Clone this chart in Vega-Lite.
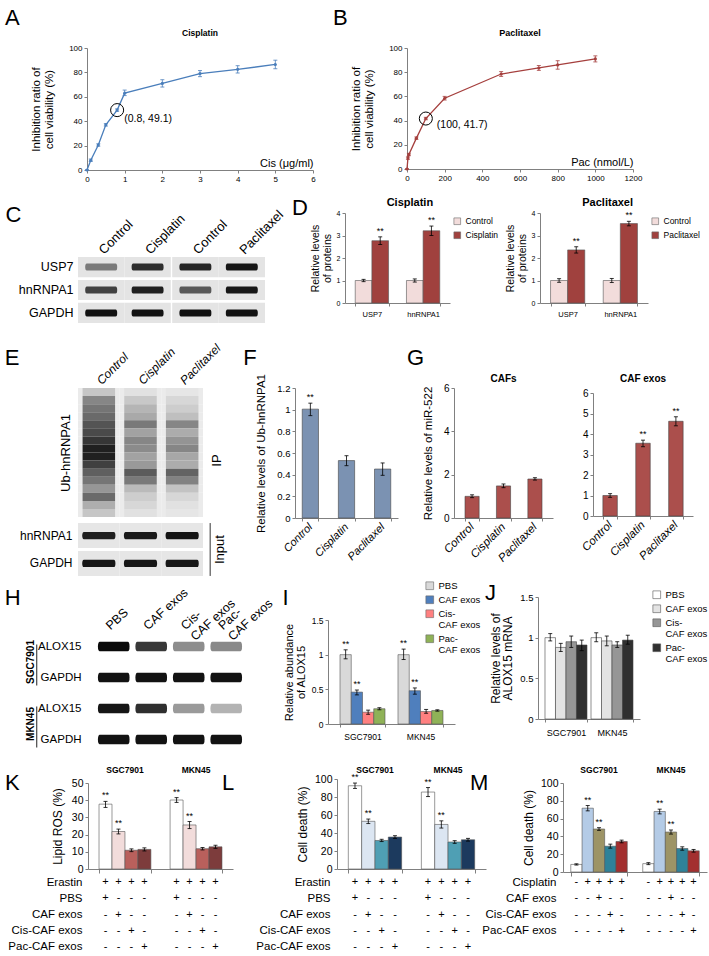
{
 "$schema": "https://vega.github.io/schema/vega-lite/v6.json",
 "width": 709,
 "height": 956,
 "autosize": {"type": "none"},
 "padding": 0,
 "background": "#ffffff",
 "config": {
  "font": "Liberation Sans",
  "view": {"stroke": null},
  "axis": {"domainColor": "#808080", "tickColor": "#808080", "labelColor": "#000000", "titleColor": "#000000", "titleFontWeight": "normal", "grid": false, "tickSize": 3, "labelFont": "Liberation Sans", "titleFont": "Liberation Sans", "labelPadding": 2, "labelOverlap": false, "labelFlush": false},
  "legend": {"labelFont": "Liberation Sans", "labelColor": "#000000"},
  "text": {"font": "Liberation Sans", "color": "#000000"}
 },
 "datasets": {
  "cis": [
   {"conc": 0, "value": 0, "lo": 0, "hi": 0},
   {"conc": 0.1, "value": 8, "lo": 7, "hi": 9},
   {"conc": 0.3, "value": 20.5, "lo": 19.5, "hi": 21.5},
   {"conc": 0.5, "value": 37, "lo": 36, "hi": 38},
   {"conc": 0.8, "value": 49.1, "lo": 48.1, "hi": 50.1},
   {"conc": 1, "value": 63, "lo": 61, "hi": 65.5},
   {"conc": 2, "value": 71, "lo": 68, "hi": 74},
   {"conc": 3, "value": 79, "lo": 76.5, "hi": 81.5},
   {"conc": 4, "value": 82.5, "lo": 79.5, "hi": 85.5},
   {"conc": 5, "value": 86.5, "lo": 83, "hi": 90}
  ],
  "cisNote": [{"conc": 0.8, "value": 49.1, "label": "(0.8, 49.1)"}],
  "pac": [
   {"conc": 0, "value": 0, "lo": 0, "hi": 0},
   {"conc": 5, "value": 9, "lo": 8, "hi": 10},
   {"conc": 10, "value": 12, "lo": 11, "hi": 13},
   {"conc": 50, "value": 25.5, "lo": 24.5, "hi": 26.5},
   {"conc": 100, "value": 41.7, "lo": 40.7, "hi": 42.7},
   {"conc": 200, "value": 58.5, "lo": 57, "hi": 60},
   {"conc": 500, "value": 78.5, "lo": 76.5, "hi": 80.5},
   {"conc": 700, "value": 83.5, "lo": 81.5, "hi": 85.5},
   {"conc": 800, "value": 86, "lo": 82.5, "hi": 89.5},
   {"conc": 1000, "value": 91, "lo": 88.5, "hi": 93.5}
  ],
  "pacNote": [{"conc": 100, "value": 41.7, "label": "(100, 41.7)"}],
  "cLanes": [
   {"box": "left", "pos": "a", "label": "Control"},
   {"box": "left", "pos": "b", "label": "Cisplatin"},
   {"box": "right", "pos": "a", "label": "Control"},
   {"box": "right", "pos": "b", "label": "Paclitaxel"}
  ],
  "cBands": [
   {"box": "left", "pos": "a", "protein": "USP7", "intensity": 0.45},
   {"box": "left", "pos": "b", "protein": "USP7", "intensity": 0.82},
   {"box": "right", "pos": "a", "protein": "USP7", "intensity": 0.86},
   {"box": "right", "pos": "b", "protein": "USP7", "intensity": 0.95},
   {"box": "left", "pos": "a", "protein": "hnRNPA1", "intensity": 0.72},
   {"box": "left", "pos": "b", "protein": "hnRNPA1", "intensity": 0.9},
   {"box": "right", "pos": "a", "protein": "hnRNPA1", "intensity": 0.6},
   {"box": "right", "pos": "b", "protein": "hnRNPA1", "intensity": 0.95},
   {"box": "left", "pos": "a", "protein": "GAPDH", "intensity": 0.97},
   {"box": "left", "pos": "b", "protein": "GAPDH", "intensity": 0.97},
   {"box": "right", "pos": "a", "protein": "GAPDH", "intensity": 0.97},
   {"box": "right", "pos": "b", "protein": "GAPDH", "intensity": 0.97}
  ],
  "dCis": [
   {"gene": "USP7", "cond": "Control", "value": 1, "lo": 0.95, "hi": 1.05, "sig": ""},
   {"gene": "USP7", "cond": "Cisplatin", "value": 2.77, "lo": 2.6, "hi": 2.94, "sig": "**"},
   {"gene": "hnRNPA1", "cond": "Control", "value": 1, "lo": 0.93, "hi": 1.07, "sig": ""},
   {"gene": "hnRNPA1", "cond": "Cisplatin", "value": 3.21, "lo": 3.0, "hi": 3.42, "sig": "**"}
  ],
  "dPac": [
   {"gene": "USP7", "cond": "Control", "value": 1, "lo": 0.92, "hi": 1.08, "sig": ""},
   {"gene": "USP7", "cond": "Paclitaxel", "value": 2.36, "lo": 2.22, "hi": 2.5, "sig": "**"},
   {"gene": "hnRNPA1", "cond": "Control", "value": 1, "lo": 0.91, "hi": 1.09, "sig": ""},
   {"gene": "hnRNPA1", "cond": "Paclitaxel", "value": 3.53, "lo": 3.43, "hi": 3.63, "sig": "**"}
  ],
  "ipSmear": [
   {"lane": "Control", "level": 1, "intensity": 0.15}, {"lane": "Control", "level": 2, "intensity": 0.42}, {"lane": "Control", "level": 3, "intensity": 0.5}, {"lane": "Control", "level": 4, "intensity": 0.55},
   {"lane": "Control", "level": 5, "intensity": 0.65}, {"lane": "Control", "level": 6, "intensity": 0.7}, {"lane": "Control", "level": 7, "intensity": 0.8}, {"lane": "Control", "level": 8, "intensity": 0.92},
   {"lane": "Control", "level": 9, "intensity": 0.92}, {"lane": "Control", "level": 10, "intensity": 0.75}, {"lane": "Control", "level": 11, "intensity": 0.6}, {"lane": "Control", "level": 12, "intensity": 0.5},
   {"lane": "Control", "level": 13, "intensity": 0.35}, {"lane": "Control", "level": 14, "intensity": 0.55}, {"lane": "Control", "level": 15, "intensity": 0.25}, {"lane": "Control", "level": 16, "intensity": 0.15},
   {"lane": "Cisplatin", "level": 1, "intensity": 0.04}, {"lane": "Cisplatin", "level": 2, "intensity": 0.14}, {"lane": "Cisplatin", "level": 3, "intensity": 0.22}, {"lane": "Cisplatin", "level": 4, "intensity": 0.27},
   {"lane": "Cisplatin", "level": 5, "intensity": 0.48}, {"lane": "Cisplatin", "level": 6, "intensity": 0.3}, {"lane": "Cisplatin", "level": 7, "intensity": 0.42}, {"lane": "Cisplatin", "level": 8, "intensity": 0.4},
   {"lane": "Cisplatin", "level": 9, "intensity": 0.3}, {"lane": "Cisplatin", "level": 10, "intensity": 0.34}, {"lane": "Cisplatin", "level": 11, "intensity": 0.62}, {"lane": "Cisplatin", "level": 12, "intensity": 0.48},
   {"lane": "Cisplatin", "level": 13, "intensity": 0.2}, {"lane": "Cisplatin", "level": 14, "intensity": 0.12}, {"lane": "Cisplatin", "level": 15, "intensity": 0.08}, {"lane": "Cisplatin", "level": 16, "intensity": 0.04},
   {"lane": "Paclitaxel", "level": 1, "intensity": 0.02}, {"lane": "Paclitaxel", "level": 2, "intensity": 0.08}, {"lane": "Paclitaxel", "level": 3, "intensity": 0.12}, {"lane": "Paclitaxel", "level": 4, "intensity": 0.18},
   {"lane": "Paclitaxel", "level": 5, "intensity": 0.42}, {"lane": "Paclitaxel", "level": 6, "intensity": 0.26}, {"lane": "Paclitaxel", "level": 7, "intensity": 0.36}, {"lane": "Paclitaxel", "level": 8, "intensity": 0.42},
   {"lane": "Paclitaxel", "level": 9, "intensity": 0.28}, {"lane": "Paclitaxel", "level": 10, "intensity": 0.26}, {"lane": "Paclitaxel", "level": 11, "intensity": 0.58}, {"lane": "Paclitaxel", "level": 12, "intensity": 0.44},
   {"lane": "Paclitaxel", "level": 13, "intensity": 0.16}, {"lane": "Paclitaxel", "level": 14, "intensity": 0.08}, {"lane": "Paclitaxel", "level": 15, "intensity": 0.04}, {"lane": "Paclitaxel", "level": 16, "intensity": 0.02}
  ],
  "inBands": [
   {"lane": "Control", "protein": "hnRNPA1", "intensity": 0.9},
   {"lane": "Cisplatin", "protein": "hnRNPA1", "intensity": 0.93},
   {"lane": "Paclitaxel", "protein": "hnRNPA1", "intensity": 0.96},
   {"lane": "Control", "protein": "GAPDH", "intensity": 0.95},
   {"lane": "Cisplatin", "protein": "GAPDH", "intensity": 0.95},
   {"lane": "Paclitaxel", "protein": "GAPDH", "intensity": 0.95}
  ],
  "fdata": [
   {"grp": "Control", "value": 1.005, "lo": 0.945, "hi": 1.06, "sig": "**"},
   {"grp": "Cisplatin", "value": 0.53, "lo": 0.483, "hi": 0.575, "sig": ""},
   {"grp": "Paclitaxel", "value": 0.452, "lo": 0.394, "hi": 0.508, "sig": ""}
  ],
  "g1": [
   {"grp": "Control", "value": 1.0, "lo": 0.94, "hi": 1.07},
   {"grp": "Cisplatin", "value": 1.48, "lo": 1.4, "hi": 1.57},
   {"grp": "Paclitaxel", "value": 1.8, "lo": 1.75, "hi": 1.86}
  ],
  "g2": [
   {"grp": "Control", "value": 1.0, "lo": 0.91, "hi": 1.09, "sig": ""},
   {"grp": "Cisplatin", "value": 3.55, "lo": 3.38, "hi": 3.7, "sig": "**"},
   {"grp": "Paclitaxel", "value": 4.62, "lo": 4.4, "hi": 4.84, "sig": "**"}
  ],
  "lines": [{"line": "SGC7901"}, {"line": "MKN45"}],
  "hLines": [{"line": "SGC7901", "top": "ALOX15", "bottom": "GAPDH"}, {"line": "MKN45", "top": "ALOX15_2", "bottom": "GAPDH_2"}],
  "hBands": [
   {"lane": "PBS", "row": "ALOX15", "intensity": 1.0},
   {"lane": "CAF exos", "row": "ALOX15", "intensity": 0.78},
   {"lane": "Cis-CAF exos", "row": "ALOX15", "intensity": 0.4},
   {"lane": "Pac-CAF exos", "row": "ALOX15", "intensity": 0.42},
   {"lane": "PBS", "row": "GAPDH", "intensity": 0.97},
   {"lane": "CAF exos", "row": "GAPDH", "intensity": 0.97},
   {"lane": "Cis-CAF exos", "row": "GAPDH", "intensity": 0.97},
   {"lane": "Pac-CAF exos", "row": "GAPDH", "intensity": 0.97},
   {"lane": "PBS", "row": "ALOX15_2", "intensity": 0.95},
   {"lane": "CAF exos", "row": "ALOX15_2", "intensity": 0.82},
   {"lane": "Cis-CAF exos", "row": "ALOX15_2", "intensity": 0.35},
   {"lane": "Pac-CAF exos", "row": "ALOX15_2", "intensity": 0.25},
   {"lane": "PBS", "row": "GAPDH_2", "intensity": 0.97},
   {"lane": "CAF exos", "row": "GAPDH_2", "intensity": 0.97},
   {"lane": "Cis-CAF exos", "row": "GAPDH_2", "intensity": 0.97},
   {"lane": "Pac-CAF exos", "row": "GAPDH_2", "intensity": 0.97}
  ],
  "idata": [
   {"line": "SGC7901", "trt": "PBS", "value": 1.0, "lo": 0.94, "hi": 1.07, "sig": "**"},
   {"line": "SGC7901", "trt": "CAF exos", "value": 0.46, "lo": 0.42, "hi": 0.49, "sig": "**"},
   {"line": "SGC7901", "trt": "Cis-CAF exos", "value": 0.17, "lo": 0.14, "hi": 0.2, "sig": ""},
   {"line": "SGC7901", "trt": "Pac-CAF exos", "value": 0.22, "lo": 0.205, "hi": 0.235, "sig": ""},
   {"line": "MKN45", "trt": "PBS", "value": 1.0, "lo": 0.93, "hi": 1.08, "sig": "**"},
   {"line": "MKN45", "trt": "CAF exos", "value": 0.48, "lo": 0.43, "hi": 0.52, "sig": "**"},
   {"line": "MKN45", "trt": "Cis-CAF exos", "value": 0.18, "lo": 0.155, "hi": 0.21, "sig": ""},
   {"line": "MKN45", "trt": "Pac-CAF exos", "value": 0.195, "lo": 0.185, "hi": 0.205, "sig": ""}
  ],
  "jdata": [
   {"line": "SGC7901", "trt": "PBS", "value": 1.0, "lo": 0.96, "hi": 1.05},
   {"line": "SGC7901", "trt": "CAF exos", "value": 0.88, "lo": 0.83, "hi": 0.93},
   {"line": "SGC7901", "trt": "Cis-CAF exos", "value": 0.95, "lo": 0.88, "hi": 1.02},
   {"line": "SGC7901", "trt": "Pac-CAF exos", "value": 0.91, "lo": 0.84, "hi": 0.97},
   {"line": "MKN45", "trt": "PBS", "value": 1.0, "lo": 0.95, "hi": 1.06},
   {"line": "MKN45", "trt": "CAF exos", "value": 0.96, "lo": 0.9, "hi": 1.02},
   {"line": "MKN45", "trt": "Cis-CAF exos", "value": 0.91, "lo": 0.88, "hi": 0.95},
   {"line": "MKN45", "trt": "Pac-CAF exos", "value": 0.97, "lo": 0.92, "hi": 1.03}
  ],
  "kdata": [
   {"line": "SGC7901", "trt": "PBS", "value": 37.7, "lo": 35.8, "hi": 39.3, "sig": "**"},
   {"line": "SGC7901", "trt": "CAF exos", "value": 21.8, "lo": 20.4, "hi": 23.2, "sig": "**"},
   {"line": "SGC7901", "trt": "Cis-CAF exos", "value": 10.9, "lo": 10.1, "hi": 11.7, "sig": ""},
   {"line": "SGC7901", "trt": "Pac-CAF exos", "value": 11.4, "lo": 10.5, "hi": 12.3, "sig": ""},
   {"line": "MKN45", "trt": "PBS", "value": 40.1, "lo": 38.7, "hi": 41.5, "sig": "**"},
   {"line": "MKN45", "trt": "CAF exos", "value": 25.6, "lo": 23.5, "hi": 27.6, "sig": "**"},
   {"line": "MKN45", "trt": "Cis-CAF exos", "value": 11.8, "lo": 11.1, "hi": 12.5, "sig": ""},
   {"line": "MKN45", "trt": "Pac-CAF exos", "value": 12.9, "lo": 12.0, "hi": 13.8, "sig": ""}
  ],
  "ldata": [
   {"line": "SGC7901", "trt": "PBS", "value": 92.5, "lo": 89.5, "hi": 95.5, "sig": "**"},
   {"line": "SGC7901", "trt": "CAF exos", "value": 53, "lo": 50.5, "hi": 55.5, "sig": "**"},
   {"line": "SGC7901", "trt": "Cis-CAF exos", "value": 31.7, "lo": 30.5, "hi": 33, "sig": ""},
   {"line": "SGC7901", "trt": "Pac-CAF exos", "value": 35.5, "lo": 34, "hi": 37, "sig": ""},
   {"line": "MKN45", "trt": "PBS", "value": 85.5, "lo": 80.5, "hi": 90.5, "sig": "**"},
   {"line": "MKN45", "trt": "CAF exos", "value": 49.5, "lo": 45.5, "hi": 53.5, "sig": "**"},
   {"line": "MKN45", "trt": "Cis-CAF exos", "value": 30, "lo": 28.5, "hi": 31.5, "sig": ""},
   {"line": "MKN45", "trt": "Pac-CAF exos", "value": 32.5, "lo": 31, "hi": 34, "sig": ""}
  ],
  "mdata": [
   {"line": "SGC7901", "trt": "None", "value": 8.5, "lo": 7.8, "hi": 9.2, "sig": ""},
   {"line": "SGC7901", "trt": "Cisplatin", "value": 71.7, "lo": 68.7, "hi": 74.7, "sig": "**"},
   {"line": "SGC7901", "trt": "CAF exos", "value": 48.3, "lo": 46.8, "hi": 49.8, "sig": "**"},
   {"line": "SGC7901", "trt": "Cis-CAF exos", "value": 29, "lo": 26.8, "hi": 31.3, "sig": ""},
   {"line": "SGC7901", "trt": "Pac-CAF exos", "value": 34.3, "lo": 32.8, "hi": 35.8, "sig": ""},
   {"line": "MKN45", "trt": "None", "value": 9.4, "lo": 8.3, "hi": 10.5, "sig": ""},
   {"line": "MKN45", "trt": "Cisplatin", "value": 68, "lo": 65.3, "hi": 70.6, "sig": "**"},
   {"line": "MKN45", "trt": "CAF exos", "value": 44.9, "lo": 42.6, "hi": 47.2, "sig": "**"},
   {"line": "MKN45", "trt": "Cis-CAF exos", "value": 26.4, "lo": 24.5, "hi": 28.3, "sig": ""},
   {"line": "MKN45", "trt": "Pac-CAF exos", "value": 23.8, "lo": 22.3, "hi": 25.3, "sig": ""}
  ],
  "tabKL": [
   {"line": "SGC7901", "factor": "Erastin", "trt": "PBS", "sign": "+"}, {"line": "SGC7901", "factor": "Erastin", "trt": "CAF exos", "sign": "+"}, {"line": "SGC7901", "factor": "Erastin", "trt": "Cis-CAF exos", "sign": "+"}, {"line": "SGC7901", "factor": "Erastin", "trt": "Pac-CAF exos", "sign": "+"},
   {"line": "SGC7901", "factor": "PBS", "trt": "PBS", "sign": "+"}, {"line": "SGC7901", "factor": "PBS", "trt": "CAF exos", "sign": "-"}, {"line": "SGC7901", "factor": "PBS", "trt": "Cis-CAF exos", "sign": "-"}, {"line": "SGC7901", "factor": "PBS", "trt": "Pac-CAF exos", "sign": "-"},
   {"line": "SGC7901", "factor": "CAF exos", "trt": "PBS", "sign": "-"}, {"line": "SGC7901", "factor": "CAF exos", "trt": "CAF exos", "sign": "+"}, {"line": "SGC7901", "factor": "CAF exos", "trt": "Cis-CAF exos", "sign": "-"}, {"line": "SGC7901", "factor": "CAF exos", "trt": "Pac-CAF exos", "sign": "-"},
   {"line": "SGC7901", "factor": "Cis-CAF exos", "trt": "PBS", "sign": "-"}, {"line": "SGC7901", "factor": "Cis-CAF exos", "trt": "CAF exos", "sign": "-"}, {"line": "SGC7901", "factor": "Cis-CAF exos", "trt": "Cis-CAF exos", "sign": "+"}, {"line": "SGC7901", "factor": "Cis-CAF exos", "trt": "Pac-CAF exos", "sign": "-"},
   {"line": "SGC7901", "factor": "Pac-CAF exos", "trt": "PBS", "sign": "-"}, {"line": "SGC7901", "factor": "Pac-CAF exos", "trt": "CAF exos", "sign": "-"}, {"line": "SGC7901", "factor": "Pac-CAF exos", "trt": "Cis-CAF exos", "sign": "-"}, {"line": "SGC7901", "factor": "Pac-CAF exos", "trt": "Pac-CAF exos", "sign": "+"},
   {"line": "MKN45", "factor": "Erastin", "trt": "PBS", "sign": "+"}, {"line": "MKN45", "factor": "Erastin", "trt": "CAF exos", "sign": "+"}, {"line": "MKN45", "factor": "Erastin", "trt": "Cis-CAF exos", "sign": "+"}, {"line": "MKN45", "factor": "Erastin", "trt": "Pac-CAF exos", "sign": "+"},
   {"line": "MKN45", "factor": "PBS", "trt": "PBS", "sign": "+"}, {"line": "MKN45", "factor": "PBS", "trt": "CAF exos", "sign": "-"}, {"line": "MKN45", "factor": "PBS", "trt": "Cis-CAF exos", "sign": "-"}, {"line": "MKN45", "factor": "PBS", "trt": "Pac-CAF exos", "sign": "-"},
   {"line": "MKN45", "factor": "CAF exos", "trt": "PBS", "sign": "-"}, {"line": "MKN45", "factor": "CAF exos", "trt": "CAF exos", "sign": "+"}, {"line": "MKN45", "factor": "CAF exos", "trt": "Cis-CAF exos", "sign": "-"}, {"line": "MKN45", "factor": "CAF exos", "trt": "Pac-CAF exos", "sign": "-"},
   {"line": "MKN45", "factor": "Cis-CAF exos", "trt": "PBS", "sign": "-"}, {"line": "MKN45", "factor": "Cis-CAF exos", "trt": "CAF exos", "sign": "-"}, {"line": "MKN45", "factor": "Cis-CAF exos", "trt": "Cis-CAF exos", "sign": "+"}, {"line": "MKN45", "factor": "Cis-CAF exos", "trt": "Pac-CAF exos", "sign": "-"},
   {"line": "MKN45", "factor": "Pac-CAF exos", "trt": "PBS", "sign": "-"}, {"line": "MKN45", "factor": "Pac-CAF exos", "trt": "CAF exos", "sign": "-"}, {"line": "MKN45", "factor": "Pac-CAF exos", "trt": "Cis-CAF exos", "sign": "-"}, {"line": "MKN45", "factor": "Pac-CAF exos", "trt": "Pac-CAF exos", "sign": "+"}
  ],
  "tabM": [
   {"line": "SGC7901", "factor": "Cisplatin", "trt": "None", "sign": "-"}, {"line": "SGC7901", "factor": "Cisplatin", "trt": "Cisplatin", "sign": "+"}, {"line": "SGC7901", "factor": "Cisplatin", "trt": "CAF exos", "sign": "+"}, {"line": "SGC7901", "factor": "Cisplatin", "trt": "Cis-CAF exos", "sign": "+"}, {"line": "SGC7901", "factor": "Cisplatin", "trt": "Pac-CAF exos", "sign": "+"},
   {"line": "SGC7901", "factor": "CAF exos", "trt": "None", "sign": "-"}, {"line": "SGC7901", "factor": "CAF exos", "trt": "Cisplatin", "sign": "-"}, {"line": "SGC7901", "factor": "CAF exos", "trt": "CAF exos", "sign": "+"}, {"line": "SGC7901", "factor": "CAF exos", "trt": "Cis-CAF exos", "sign": "-"}, {"line": "SGC7901", "factor": "CAF exos", "trt": "Pac-CAF exos", "sign": "-"},
   {"line": "SGC7901", "factor": "Cis-CAF exos", "trt": "None", "sign": "-"}, {"line": "SGC7901", "factor": "Cis-CAF exos", "trt": "Cisplatin", "sign": "-"}, {"line": "SGC7901", "factor": "Cis-CAF exos", "trt": "CAF exos", "sign": "-"}, {"line": "SGC7901", "factor": "Cis-CAF exos", "trt": "Cis-CAF exos", "sign": "+"}, {"line": "SGC7901", "factor": "Cis-CAF exos", "trt": "Pac-CAF exos", "sign": "-"},
   {"line": "SGC7901", "factor": "Pac-CAF exos", "trt": "None", "sign": "-"}, {"line": "SGC7901", "factor": "Pac-CAF exos", "trt": "Cisplatin", "sign": "-"}, {"line": "SGC7901", "factor": "Pac-CAF exos", "trt": "CAF exos", "sign": "-"}, {"line": "SGC7901", "factor": "Pac-CAF exos", "trt": "Cis-CAF exos", "sign": "-"}, {"line": "SGC7901", "factor": "Pac-CAF exos", "trt": "Pac-CAF exos", "sign": "+"},
   {"line": "MKN45", "factor": "Cisplatin", "trt": "None", "sign": "-"}, {"line": "MKN45", "factor": "Cisplatin", "trt": "Cisplatin", "sign": "+"}, {"line": "MKN45", "factor": "Cisplatin", "trt": "CAF exos", "sign": "+"}, {"line": "MKN45", "factor": "Cisplatin", "trt": "Cis-CAF exos", "sign": "+"}, {"line": "MKN45", "factor": "Cisplatin", "trt": "Pac-CAF exos", "sign": "+"},
   {"line": "MKN45", "factor": "CAF exos", "trt": "None", "sign": "-"}, {"line": "MKN45", "factor": "CAF exos", "trt": "Cisplatin", "sign": "-"}, {"line": "MKN45", "factor": "CAF exos", "trt": "CAF exos", "sign": "+"}, {"line": "MKN45", "factor": "CAF exos", "trt": "Cis-CAF exos", "sign": "-"}, {"line": "MKN45", "factor": "CAF exos", "trt": "Pac-CAF exos", "sign": "-"},
   {"line": "MKN45", "factor": "Cis-CAF exos", "trt": "None", "sign": "-"}, {"line": "MKN45", "factor": "Cis-CAF exos", "trt": "Cisplatin", "sign": "-"}, {"line": "MKN45", "factor": "Cis-CAF exos", "trt": "CAF exos", "sign": "-"}, {"line": "MKN45", "factor": "Cis-CAF exos", "trt": "Cis-CAF exos", "sign": "+"}, {"line": "MKN45", "factor": "Cis-CAF exos", "trt": "Pac-CAF exos", "sign": "-"},
   {"line": "MKN45", "factor": "Pac-CAF exos", "trt": "None", "sign": "-"}, {"line": "MKN45", "factor": "Pac-CAF exos", "trt": "Cisplatin", "sign": "-"}, {"line": "MKN45", "factor": "Pac-CAF exos", "trt": "CAF exos", "sign": "-"}, {"line": "MKN45", "factor": "Pac-CAF exos", "trt": "Cis-CAF exos", "sign": "-"}, {"line": "MKN45", "factor": "Pac-CAF exos", "trt": "Pac-CAF exos", "sign": "+"}
  ]
 },
 "resolve": {"scale": {"x": "independent", "y": "independent", "color": "independent", "xOffset": "independent"}, "axis": {"x": "independent", "y": "independent"}, "legend": {"color": "independent"}},
 "layer": [
  {"layer": [
   {"data": {"name": "cis"}, "mark": {"type": "line", "color": "#4a7ebb", "strokeWidth": 1.3},
    "encoding": {
     "x": {"field": "conc", "type": "quantitative", "scale": {"domain": [0, 6], "nice": false, "range": [87, 313]}, "axis": {"orient": "bottom", "offset": -786, "values": [0, 1, 2, 3, 4, 5, 6], "format": "d", "labelOverlap": false, "labelFlush": false, "title": "Cis (μg/ml)", "titleAnchor": "end", "titleAlign": "right", "titleBaseline": "alphabetic", "titleY": -4, "titleFontSize": 11, "labelFontSize": 8}},
     "y": {"field": "value", "type": "quantitative", "scale": {"domain": [0, 100], "nice": false, "range": [170, 48]}, "axis": {"orient": "left", "offset": -87, "values": [0, 20, 40, 60, 80, 100], "format": "d", "labelOverlap": false, "title": ["Inhibition ratio of", "cell viability (%)"], "titleFontSize": 11.5, "titlePadding": 14, "labelFontSize": 8}}}},
   {"data": {"name": "cis"}, "mark": {"type": "rule", "color": "#4a7ebb", "strokeWidth": 0.8}, "encoding": {"x": {"field": "conc", "type": "quantitative"}, "y": {"field": "lo", "type": "quantitative"}, "y2": {"field": "hi"}}},
   {"data": {"name": "cis"}, "mark": {"type": "point", "shape": "M-1,0L1,0", "size": 16, "filled": false, "color": "#4a7ebb", "strokeWidth": 0.8, "opacity": 1}, "encoding": {"x": {"field": "conc", "type": "quantitative"}, "y": {"field": "lo", "type": "quantitative"}}},
   {"data": {"name": "cis"}, "mark": {"type": "point", "shape": "M-1,0L1,0", "size": 16, "filled": false, "color": "#4a7ebb", "strokeWidth": 0.8, "opacity": 1}, "encoding": {"x": {"field": "conc", "type": "quantitative"}, "y": {"field": "hi", "type": "quantitative"}}},
   {"data": {"name": "cis"}, "mark": {"type": "point", "filled": true, "size": 10, "color": "#4a7ebb", "opacity": 1}, "encoding": {"x": {"field": "conc", "type": "quantitative"}, "y": {"field": "value", "type": "quantitative"}}},
   {"data": {"name": "cisNote"}, "mark": {"type": "point", "shape": "circle", "size": 170, "filled": false, "color": "#000000", "strokeWidth": 1, "opacity": 1}, "encoding": {"x": {"field": "conc", "type": "quantitative"}, "y": {"field": "value", "type": "quantitative"}}},
   {"data": {"name": "cisNote"}, "mark": {"type": "text", "align": "left", "baseline": "middle", "dx": 7, "dy": 9, "fontSize": 10.5}, "encoding": {"x": {"field": "conc", "type": "quantitative"}, "y": {"field": "value", "type": "quantitative"}, "text": {"field": "label"}}},
   {"data": {"values": [{"t": "Cisplatin"}]}, "mark": {"type": "text", "fontSize": 8.5, "fontWeight": "bold", "baseline": "middle", "dy": -15}, "encoding": {"x": {"datum": 3, "type": "quantitative"}, "y": {"datum": 100, "type": "quantitative"}, "text": {"field": "t"}}},
   {"data": {"values": [{"t": "A"}]}, "mark": {"type": "text", "fontSize": 22, "align": "left", "baseline": "alphabetic", "dx": -82, "dy": -23}, "encoding": {"x": {"datum": 0, "type": "quantitative"}, "y": {"datum": 100, "type": "quantitative"}, "text": {"field": "t"}}}
  ]},

  {"layer": [
   {"data": {"name": "pac"}, "mark": {"type": "line", "color": "#a53f3d", "strokeWidth": 1.3},
    "encoding": {
     "x": {"field": "conc", "type": "quantitative", "scale": {"domain": [0, 1200], "nice": false, "range": [407, 633]}, "axis": {"orient": "bottom", "offset": -787, "values": [0, 200, 400, 600, 800, 1000, 1200], "format": "d", "labelOverlap": false, "labelFlush": false, "title": "Pac (nmol/L)", "titleAnchor": "end", "titleAlign": "right", "titleBaseline": "alphabetic", "titleY": -4, "titleFontSize": 11, "labelFontSize": 8}},
     "y": {"field": "value", "type": "quantitative", "scale": {"domain": [0, 100], "nice": false, "range": [169, 48]}, "axis": {"orient": "left", "offset": -407, "values": [0, 20, 40, 60, 80, 100], "format": "d", "labelOverlap": false, "title": ["Inhibition ratio of", "cell viability (%)"], "titleFontSize": 11.5, "titlePadding": 14, "labelFontSize": 8}}}},
   {"data": {"name": "pac"}, "mark": {"type": "rule", "color": "#a53f3d", "strokeWidth": 0.8}, "encoding": {"x": {"field": "conc", "type": "quantitative"}, "y": {"field": "lo", "type": "quantitative"}, "y2": {"field": "hi"}}},
   {"data": {"name": "pac"}, "mark": {"type": "point", "shape": "M-1,0L1,0", "size": 16, "filled": false, "color": "#a53f3d", "strokeWidth": 0.8, "opacity": 1}, "encoding": {"x": {"field": "conc", "type": "quantitative"}, "y": {"field": "lo", "type": "quantitative"}}},
   {"data": {"name": "pac"}, "mark": {"type": "point", "shape": "M-1,0L1,0", "size": 16, "filled": false, "color": "#a53f3d", "strokeWidth": 0.8, "opacity": 1}, "encoding": {"x": {"field": "conc", "type": "quantitative"}, "y": {"field": "hi", "type": "quantitative"}}},
   {"data": {"name": "pac"}, "mark": {"type": "point", "filled": true, "size": 10, "color": "#a53f3d", "opacity": 1}, "encoding": {"x": {"field": "conc", "type": "quantitative"}, "y": {"field": "value", "type": "quantitative"}}},
   {"data": {"name": "pacNote"}, "mark": {"type": "point", "shape": "circle", "size": 170, "filled": false, "color": "#000000", "strokeWidth": 1, "opacity": 1}, "encoding": {"x": {"field": "conc", "type": "quantitative"}, "y": {"field": "value", "type": "quantitative"}}},
   {"data": {"name": "pacNote"}, "mark": {"type": "text", "align": "left", "baseline": "middle", "dx": 11, "dy": 6, "fontSize": 10.5}, "encoding": {"x": {"field": "conc", "type": "quantitative"}, "y": {"field": "value", "type": "quantitative"}, "text": {"field": "label"}}},
   {"data": {"values": [{"t": "Paclitaxel"}]}, "mark": {"type": "text", "fontSize": 9, "fontWeight": "bold", "baseline": "middle", "dy": -15}, "encoding": {"x": {"datum": 600, "type": "quantitative"}, "y": {"datum": 100, "type": "quantitative"}, "text": {"field": "t"}}},
   {"data": {"values": [{"t": "B"}]}, "mark": {"type": "text", "fontSize": 22, "align": "left", "baseline": "alphabetic", "dx": -74, "dy": -23}, "encoding": {"x": {"datum": 0, "type": "quantitative"}, "y": {"datum": 100, "type": "quantitative"}, "text": {"field": "t"}}}
  ]},

  {"layer": [
   {"data": {"name": "cBands"}, "mark": {"type": "rect", "color": "#e4e4e4"},
    "encoding": {
     "x": {"field": "box", "type": "nominal", "sort": ["left", "right"], "scale": {"range": [78, 265], "paddingInner": 0.015, "paddingOuter": 0}, "axis": null},
     "xOffset": {"field": "pos", "type": "nominal", "sort": ["a", "b"]},
     "y": {"field": "protein", "type": "nominal", "sort": ["USP7", "hnRNPA1", "GAPDH"], "scale": {"range": [257, 323], "paddingInner": 0.12, "paddingOuter": 0}, "axis": {"orient": "left", "offset": -78, "title": null, "domain": false, "ticks": false, "labelFontSize": 12.5, "labelPadding": 5}}}},
   {"data": {"name": "cBands"}, "mark": {"type": "point", "shape": "M-0.9,-0.22L0.9,-0.22Q1,-0.22,1,0Q1,0.22,0.9,0.22L-0.9,0.22Q-1,0.22,-1,0Q-1,-0.22,-0.9,-0.22Z", "size": 1024, "filled": true, "opacity": 1, "strokeWidth": 0},
    "encoding": {
     "x": {"field": "box", "type": "nominal", "sort": ["left", "right"]},
     "xOffset": {"field": "pos", "type": "nominal", "sort": ["a", "b"]},
     "y": {"field": "protein", "type": "nominal", "sort": ["USP7", "hnRNPA1", "GAPDH"]},
     "color": {"field": "intensity", "type": "quantitative", "scale": {"domain": [0, 1], "range": ["#e4e4e4", "#0a0a0a"]}, "legend": null}}},
   {"data": {"name": "cLanes"}, "mark": {"type": "text", "angle": 315, "align": "left", "baseline": "middle", "fontSize": 13, "xOffset": -3, "yOffset": -15},
    "encoding": {
     "x": {"field": "box", "type": "nominal", "sort": ["left", "right"]},
     "xOffset": {"field": "pos", "type": "nominal", "sort": ["a", "b"]},
     "y": {"datum": "USP7", "type": "nominal"},
     "text": {"field": "label"}}},
   {"data": {"values": [{"t": "C"}]}, "mark": {"type": "text", "fontSize": 22, "align": "left", "baseline": "alphabetic", "dx": -119, "dy": -45}, "encoding": {"x": {"datum": "left", "type": "nominal"}, "y": {"datum": "USP7", "type": "nominal"}, "text": {"field": "t"}}}
  ]},

  {"layer": [
   {"data": {"name": "dCis"}, "mark": {"type": "bar", "stroke": "#555555", "strokeWidth": 0.6},
    "encoding": {
     "x": {"field": "gene", "type": "nominal", "sort": ["USP7", "hnRNPA1"], "scale": {"range": [345, 450], "paddingInner": 0.35, "paddingOuter": 0.2}, "axis": {"orient": "bottom", "offset": -653, "title": null, "labelAngle": 0, "labelFontSize": 7.5, "tickBand": "extent", "labelPadding": 4}},
     "xOffset": {"field": "cond", "type": "nominal", "sort": ["Control", "Cisplatin"]},
     "y": {"field": "value", "type": "quantitative", "scale": {"domain": [0, 4], "nice": false, "range": [303, 213]}, "axis": {"orient": "left", "offset": -345, "values": [0, 1, 2, 3, 4], "format": "d", "labelOverlap": false, "labelFontSize": 7, "title": ["Relative levels", "of proteins"], "titleFontSize": 10.5, "titlePadding": 4, "titleLineHeight": 12}},
     "color": {"field": "cond", "type": "nominal", "scale": {"domain": ["Control", "Cisplatin"], "range": ["#f2dcdb", "#a0413e"]}, "legend": {"title": null, "orient": "none", "legendX": 453, "legendY": 217, "labelFontSize": 8.5, "symbolType": "square", "symbolSize": 45, "symbolStrokeColor": "#666666", "symbolStrokeWidth": 0.6, "rowPadding": 4}}}},
   {"data": {"name": "dCis"}, "mark": {"type": "rule", "color": "#000000", "strokeWidth": 0.8}, "encoding": {"x": {"field": "gene", "type": "nominal", "sort": ["USP7", "hnRNPA1"]}, "xOffset": {"field": "cond", "type": "nominal", "sort": ["Control", "Cisplatin"]}, "y": {"field": "lo", "type": "quantitative"}, "y2": {"field": "hi"}}},
   {"data": {"name": "dCis"}, "mark": {"type": "point", "shape": "M-1,0L1,0", "size": 16, "filled": false, "color": "#000000", "strokeWidth": 0.8, "opacity": 1}, "encoding": {"x": {"field": "gene", "type": "nominal", "sort": ["USP7", "hnRNPA1"]}, "xOffset": {"field": "cond", "type": "nominal", "sort": ["Control", "Cisplatin"]}, "y": {"field": "lo", "type": "quantitative"}}},
   {"data": {"name": "dCis"}, "mark": {"type": "point", "shape": "M-1,0L1,0", "size": 16, "filled": false, "color": "#000000", "strokeWidth": 0.8, "opacity": 1}, "encoding": {"x": {"field": "gene", "type": "nominal", "sort": ["USP7", "hnRNPA1"]}, "xOffset": {"field": "cond", "type": "nominal", "sort": ["Control", "Cisplatin"]}, "y": {"field": "hi", "type": "quantitative"}}},
   {"data": {"name": "dCis"}, "mark": {"type": "text", "dy": -6, "fontSize": 9}, "encoding": {"x": {"field": "gene", "type": "nominal", "sort": ["USP7", "hnRNPA1"]}, "xOffset": {"field": "cond", "type": "nominal", "sort": ["Control", "Cisplatin"]}, "y": {"field": "hi", "type": "quantitative"}, "text": {"field": "sig"}}},
   {"data": {"values": [{"t": "Cisplatin"}]}, "mark": {"type": "text", "fontSize": 11, "fontWeight": "bold", "baseline": "middle", "dx": 38, "dy": -10}, "encoding": {"x": {"datum": "USP7", "type": "nominal"}, "y": {"datum": 4, "type": "quantitative"}, "text": {"field": "t"}}},
   {"data": {"values": [{"t": "D"}]}, "mark": {"type": "text", "fontSize": 22, "align": "left", "baseline": "alphabetic", "dx": -80, "dy": 2}, "encoding": {"x": {"datum": "USP7", "type": "nominal"}, "y": {"datum": 4, "type": "quantitative"}, "text": {"field": "t"}}}
  ]},

  {"layer": [
   {"data": {"name": "dPac"}, "mark": {"type": "bar", "stroke": "#555555", "strokeWidth": 0.6},
    "encoding": {
     "x": {"field": "gene", "type": "nominal", "sort": ["USP7", "hnRNPA1"], "scale": {"range": [540, 648], "paddingInner": 0.35, "paddingOuter": 0.2}, "axis": {"orient": "bottom", "offset": -653, "title": null, "labelAngle": 0, "labelFontSize": 7.5, "tickBand": "extent", "labelPadding": 4}},
     "xOffset": {"field": "cond", "type": "nominal", "sort": ["Control", "Paclitaxel"]},
     "y": {"field": "value", "type": "quantitative", "scale": {"domain": [0, 4], "nice": false, "range": [303, 213]}, "axis": {"orient": "left", "offset": -540, "values": [0, 1, 2, 3, 4], "format": "d", "labelOverlap": false, "labelFontSize": 7, "title": ["Relative levels", "of proteins"], "titleFontSize": 10.5, "titlePadding": 4, "titleLineHeight": 12}},
     "color": {"field": "cond", "type": "nominal", "scale": {"domain": ["Control", "Paclitaxel"], "range": ["#f2dcdb", "#a0413e"]}, "legend": {"title": null, "orient": "none", "legendX": 651, "legendY": 217, "labelFontSize": 8.5, "symbolType": "square", "symbolSize": 45, "symbolStrokeColor": "#666666", "symbolStrokeWidth": 0.6, "rowPadding": 4}}}},
   {"data": {"name": "dPac"}, "mark": {"type": "rule", "color": "#000000", "strokeWidth": 0.8}, "encoding": {"x": {"field": "gene", "type": "nominal", "sort": ["USP7", "hnRNPA1"]}, "xOffset": {"field": "cond", "type": "nominal", "sort": ["Control", "Paclitaxel"]}, "y": {"field": "lo", "type": "quantitative"}, "y2": {"field": "hi"}}},
   {"data": {"name": "dPac"}, "mark": {"type": "point", "shape": "M-1,0L1,0", "size": 16, "filled": false, "color": "#000000", "strokeWidth": 0.8, "opacity": 1}, "encoding": {"x": {"field": "gene", "type": "nominal", "sort": ["USP7", "hnRNPA1"]}, "xOffset": {"field": "cond", "type": "nominal", "sort": ["Control", "Paclitaxel"]}, "y": {"field": "lo", "type": "quantitative"}}},
   {"data": {"name": "dPac"}, "mark": {"type": "point", "shape": "M-1,0L1,0", "size": 16, "filled": false, "color": "#000000", "strokeWidth": 0.8, "opacity": 1}, "encoding": {"x": {"field": "gene", "type": "nominal", "sort": ["USP7", "hnRNPA1"]}, "xOffset": {"field": "cond", "type": "nominal", "sort": ["Control", "Paclitaxel"]}, "y": {"field": "hi", "type": "quantitative"}}},
   {"data": {"name": "dPac"}, "mark": {"type": "text", "dy": -6, "fontSize": 9}, "encoding": {"x": {"field": "gene", "type": "nominal", "sort": ["USP7", "hnRNPA1"]}, "xOffset": {"field": "cond", "type": "nominal", "sort": ["Control", "Paclitaxel"]}, "y": {"field": "hi", "type": "quantitative"}, "text": {"field": "sig"}}},
   {"data": {"values": [{"t": "Paclitaxel"}]}, "mark": {"type": "text", "fontSize": 11, "fontWeight": "bold", "baseline": "middle", "dx": 40, "dy": -10}, "encoding": {"x": {"datum": "USP7", "type": "nominal"}, "y": {"datum": 4, "type": "quantitative"}, "text": {"field": "t"}}}
  ]},

  {"layer": [
   {"data": {"name": "ipSmear"}, "mark": {"type": "rect", "color": "#ebebeb"},
    "encoding": {
     "x": {"field": "lane", "type": "nominal", "sort": ["Control", "Cisplatin", "Paclitaxel"], "scale": {"range": [78, 203], "paddingInner": 0, "paddingOuter": 0}, "axis": {"orient": "top", "offset": -388, "title": null, "domain": false, "ticks": false, "labelAngle": -45, "labelAlign": "left", "labelBaseline": "middle", "labelFontSize": 12, "labelFontStyle": "italic", "labelPadding": 6}},
     "y": {"field": "level", "type": "ordinal", "scale": {"range": [388, 517], "paddingInner": 0, "paddingOuter": 0}, "axis": {"orient": "left", "offset": -78, "title": "Ub-hnRNPA1", "labels": false, "ticks": false, "domain": false, "titleFontSize": 13, "titlePadding": 6}}}},
   {"data": {"name": "ipSmear"}, "mark": {"type": "rect", "width": {"band": 0.78}},
    "encoding": {
     "x": {"field": "lane", "type": "nominal", "sort": ["Control", "Cisplatin", "Paclitaxel"]},
     "y": {"field": "level", "type": "ordinal"},
     "color": {"field": "intensity", "type": "quantitative", "scale": {"domain": [0, 1], "range": ["#ebebeb", "#111111"]}, "legend": null}}},
   {"data": {"values": [{"t": "IP"}]}, "mark": {"type": "text", "fontSize": 13, "angle": 270, "align": "center", "baseline": "middle", "xOffset": 35, "yOffset": 4}, "encoding": {"x": {"datum": "Paclitaxel", "type": "nominal"}, "y": {"datum": 9, "type": "ordinal"}, "text": {"field": "t"}}},
   {"data": {"values": [{"t": "E"}]}, "mark": {"type": "text", "fontSize": 22, "align": "left", "baseline": "alphabetic", "dx": -94, "dy": -27}, "encoding": {"x": {"datum": "Control", "type": "nominal"}, "y": {"datum": 1, "type": "ordinal"}, "text": {"field": "t"}}}
  ]},

  {"layer": [
   {"data": {"name": "inBands"}, "mark": {"type": "rect", "color": "#e6e6e6"},
    "encoding": {
     "x": {"field": "lane", "type": "nominal", "sort": ["Control", "Cisplatin", "Paclitaxel"], "scale": {"range": [78, 203], "paddingInner": 0, "paddingOuter": 0}, "axis": null},
     "y": {"field": "protein", "type": "nominal", "sort": ["hnRNPA1", "GAPDH"], "scale": {"range": [523, 576], "paddingInner": 0.1, "paddingOuter": 0}, "axis": {"orient": "left", "offset": -78, "title": null, "domain": false, "ticks": false, "labelFontSize": 12, "labelPadding": 6}}}},
   {"data": {"name": "inBands"}, "mark": {"type": "point", "shape": "M-0.9,-0.22L0.9,-0.22Q1,-0.22,1,0Q1,0.22,0.9,0.22L-0.9,0.22Q-1,0.22,-1,0Q-1,-0.22,-0.9,-0.22Z", "size": 1100, "filled": true, "opacity": 1, "strokeWidth": 0},
    "encoding": {
     "x": {"field": "lane", "type": "nominal", "sort": ["Control", "Cisplatin", "Paclitaxel"]},
     "y": {"field": "protein", "type": "nominal", "sort": ["hnRNPA1", "GAPDH"]},
     "color": {"field": "intensity", "type": "quantitative", "scale": {"domain": [0, 1], "range": ["#e6e6e6", "#0a0a0a"]}, "legend": null}}},
   {"data": {"values": [{"t": "Input"}]}, "mark": {"type": "rule", "color": "#333333", "strokeWidth": 1, "xOffset": 28, "x2Offset": 28, "yOffset": -12.5, "y2Offset": 12.5}, "encoding": {"x": {"datum": "Paclitaxel", "type": "nominal"}, "y": {"datum": "hnRNPA1", "type": "nominal"}, "y2": {"datum": "GAPDH"}}},
   {"data": {"values": [{"t": "Input"}]}, "mark": {"type": "text", "fontSize": 13, "angle": 270, "align": "center", "baseline": "middle", "xOffset": 38, "yOffset": 14}, "encoding": {"x": {"datum": "Paclitaxel", "type": "nominal"}, "y": {"datum": "hnRNPA1", "type": "nominal"}, "text": {"field": "t"}}}
  ]},

  {"layer": [
   {"data": {"name": "fdata"}, "mark": {"type": "bar", "color": "#7b92b2", "stroke": "#444444", "strokeWidth": 0.6},
    "encoding": {
     "x": {"field": "grp", "type": "nominal", "sort": ["Control", "Cisplatin", "Paclitaxel"], "scale": {"range": [295, 398], "paddingInner": 0.55, "paddingOuter": 0.2}, "axis": {"orient": "bottom", "offset": -438, "title": null, "labelAngle": -45, "labelAlign": "right", "labelBaseline": "middle", "labelFontSize": 11, "labelFontStyle": "italic", "tickBand": "extent", "labelPadding": 4}},
     "y": {"field": "value", "type": "quantitative", "scale": {"domain": [0, 1.2], "nice": false, "range": [518, 388]}, "axis": {"orient": "left", "offset": -295, "values": [0, 0.2, 0.4, 0.6, 0.8, 1, 1.2], "format": "~g", "labelOverlap": false, "labelFontSize": 9.5, "title": "Relative levels of Ub-hnRNPA1", "titleFontSize": 11.5, "titlePadding": 10}}}},
   {"data": {"name": "fdata"}, "mark": {"type": "rule", "color": "#000000", "strokeWidth": 0.8}, "encoding": {"x": {"field": "grp", "type": "nominal", "sort": ["Control", "Cisplatin", "Paclitaxel"]}, "y": {"field": "lo", "type": "quantitative"}, "y2": {"field": "hi"}}},
   {"data": {"name": "fdata"}, "mark": {"type": "point", "shape": "M-1,0L1,0", "size": 16, "filled": false, "color": "#000000", "strokeWidth": 0.8, "opacity": 1}, "encoding": {"x": {"field": "grp", "type": "nominal", "sort": ["Control", "Cisplatin", "Paclitaxel"]}, "y": {"field": "lo", "type": "quantitative"}}},
   {"data": {"name": "fdata"}, "mark": {"type": "point", "shape": "M-1,0L1,0", "size": 16, "filled": false, "color": "#000000", "strokeWidth": 0.8, "opacity": 1}, "encoding": {"x": {"field": "grp", "type": "nominal", "sort": ["Control", "Cisplatin", "Paclitaxel"]}, "y": {"field": "hi", "type": "quantitative"}}},
   {"data": {"name": "fdata"}, "mark": {"type": "text", "dy": -6, "fontSize": 9}, "encoding": {"x": {"field": "grp", "type": "nominal", "sort": ["Control", "Cisplatin", "Paclitaxel"]}, "y": {"field": "hi", "type": "quantitative"}, "text": {"field": "sig"}}},
   {"data": {"values": [{"t": "F"}]}, "mark": {"type": "text", "fontSize": 22, "align": "left", "baseline": "alphabetic", "dx": -67, "dy": -23}, "encoding": {"x": {"datum": "Control", "type": "nominal"}, "y": {"datum": 1.2, "type": "quantitative"}, "text": {"field": "t"}}}
  ]},

  {"layer": [
   {"data": {"name": "g1"}, "mark": {"type": "bar", "color": "#ab4f4c", "stroke": "#444444", "strokeWidth": 0.6},
    "encoding": {
     "x": {"field": "grp", "type": "nominal", "sort": ["Control", "Cisplatin", "Paclitaxel"], "scale": {"range": [454, 553], "paddingInner": 0.55, "paddingOuter": 0.35}, "axis": {"orient": "bottom", "offset": -438, "title": null, "labelAngle": -45, "labelAlign": "right", "labelBaseline": "middle", "labelFontSize": 11.5, "labelFontStyle": "italic", "tickBand": "extent", "labelPadding": 4}},
     "y": {"field": "value", "type": "quantitative", "scale": {"domain": [0, 6], "nice": false, "range": [518, 388]}, "axis": {"orient": "left", "offset": -454, "values": [0, 2, 4, 6], "format": "d", "labelOverlap": false, "labelFontSize": 10, "title": "Relative levels of miR-522", "titleFontSize": 11.5, "titlePadding": 10}}}},
   {"data": {"name": "g1"}, "mark": {"type": "rule", "color": "#000000", "strokeWidth": 0.8}, "encoding": {"x": {"field": "grp", "type": "nominal", "sort": ["Control", "Cisplatin", "Paclitaxel"]}, "y": {"field": "lo", "type": "quantitative"}, "y2": {"field": "hi"}}},
   {"data": {"name": "g1"}, "mark": {"type": "point", "shape": "M-1,0L1,0", "size": 16, "filled": false, "color": "#000000", "strokeWidth": 0.8, "opacity": 1}, "encoding": {"x": {"field": "grp", "type": "nominal", "sort": ["Control", "Cisplatin", "Paclitaxel"]}, "y": {"field": "lo", "type": "quantitative"}}},
   {"data": {"name": "g1"}, "mark": {"type": "point", "shape": "M-1,0L1,0", "size": 16, "filled": false, "color": "#000000", "strokeWidth": 0.8, "opacity": 1}, "encoding": {"x": {"field": "grp", "type": "nominal", "sort": ["Control", "Cisplatin", "Paclitaxel"]}, "y": {"field": "hi", "type": "quantitative"}}},
   {"data": {"values": [{"t": "CAFs"}]}, "mark": {"type": "text", "fontSize": 10, "fontWeight": "bold", "baseline": "middle", "dy": -9}, "encoding": {"x": {"datum": "Cisplatin", "type": "nominal"}, "y": {"datum": 6, "type": "quantitative"}, "text": {"field": "t"}}},
   {"data": {"values": [{"t": "G"}]}, "mark": {"type": "text", "fontSize": 22, "align": "left", "baseline": "alphabetic", "dx": -65, "dy": -23}, "encoding": {"x": {"datum": "Control", "type": "nominal"}, "y": {"datum": 6, "type": "quantitative"}, "text": {"field": "t"}}}
  ]},

  {"layer": [
   {"data": {"name": "g2"}, "mark": {"type": "bar", "color": "#ab4f4c", "stroke": "#444444", "strokeWidth": 0.6},
    "encoding": {
     "x": {"field": "grp", "type": "nominal", "sort": ["Control", "Cisplatin", "Paclitaxel"], "scale": {"range": [593, 693], "paddingInner": 0.56, "paddingOuter": 0.3}, "axis": {"orient": "bottom", "offset": -440, "title": null, "labelAngle": -45, "labelAlign": "right", "labelBaseline": "middle", "labelFontSize": 11.5, "labelFontStyle": "italic", "tickBand": "extent", "labelPadding": 4}},
     "y": {"field": "value", "type": "quantitative", "scale": {"domain": [0, 6], "nice": false, "range": [516, 393]}, "axis": {"orient": "left", "offset": -593, "values": [0, 1, 2, 3, 4, 5, 6], "format": "d", "labelOverlap": false, "labelFontSize": 10, "title": null}}}},
   {"data": {"name": "g2"}, "mark": {"type": "rule", "color": "#000000", "strokeWidth": 0.8}, "encoding": {"x": {"field": "grp", "type": "nominal", "sort": ["Control", "Cisplatin", "Paclitaxel"]}, "y": {"field": "lo", "type": "quantitative"}, "y2": {"field": "hi"}}},
   {"data": {"name": "g2"}, "mark": {"type": "point", "shape": "M-1,0L1,0", "size": 16, "filled": false, "color": "#000000", "strokeWidth": 0.8, "opacity": 1}, "encoding": {"x": {"field": "grp", "type": "nominal", "sort": ["Control", "Cisplatin", "Paclitaxel"]}, "y": {"field": "lo", "type": "quantitative"}}},
   {"data": {"name": "g2"}, "mark": {"type": "point", "shape": "M-1,0L1,0", "size": 16, "filled": false, "color": "#000000", "strokeWidth": 0.8, "opacity": 1}, "encoding": {"x": {"field": "grp", "type": "nominal", "sort": ["Control", "Cisplatin", "Paclitaxel"]}, "y": {"field": "hi", "type": "quantitative"}}},
   {"data": {"name": "g2"}, "mark": {"type": "text", "dy": -6, "fontSize": 9}, "encoding": {"x": {"field": "grp", "type": "nominal", "sort": ["Control", "Cisplatin", "Paclitaxel"]}, "y": {"field": "hi", "type": "quantitative"}, "text": {"field": "sig"}}},
   {"data": {"values": [{"t": "CAF exos"}]}, "mark": {"type": "text", "fontSize": 10, "fontWeight": "bold", "baseline": "middle", "dy": -14}, "encoding": {"x": {"datum": "Cisplatin", "type": "nominal"}, "y": {"datum": 6, "type": "quantitative"}, "text": {"field": "t"}}}
  ]},

  {"layer": [
   {"data": {"name": "hBands"}, "mark": {"type": "point", "shape": "M-0.88,-0.3L0.88,-0.3Q1,-0.3,1,0Q1,0.3,0.88,0.3L-0.88,0.3Q-1,0.3,-1,0Q-1,-0.3,-0.88,-0.3Z", "size": 1000, "filled": true, "opacity": 1, "strokeWidth": 0},
    "encoding": {
     "x": {"field": "lane", "type": "nominal", "sort": ["PBS", "CAF exos", "Cis-CAF exos", "Pac-CAF exos"], "scale": {"range": [95, 245], "paddingInner": 0, "paddingOuter": 0}, "axis": {"orient": "top", "offset": -631, "title": null, "domain": false, "ticks": false, "labelAngle": -42, "labelAlign": "left", "labelBaseline": "middle", "labelFontSize": 12.5, "labelPadding": 4, "labelOffset": -6, "labelExpr": "indexof(datum.label, '-C') > 0 ? [slice(datum.label, 0, 4), slice(datum.label, 4)] : datum.label"}},
     "y": {"field": "row", "type": "nominal", "sort": ["ALOX15", "GAPDH", "ALOX15_2", "GAPDH_2"], "scale": {"domain": ["ALOX15", "GAPDH", "ALOX15_2", "GAPDH_2"], "range": [631, 755], "paddingInner": 0, "paddingOuter": 0}, "axis": {"orient": "left", "offset": -95, "title": null, "domain": false, "ticks": false, "labelFontSize": 11.5, "labelPadding": 14, "labelExpr": "replace(datum.label, '_2', '')"}},
     "color": {"field": "intensity", "type": "quantitative", "scale": {"domain": [0, 1], "range": ["#f4f4f4", "#0a0a0a"]}, "legend": null}}},
   {"data": {"name": "hLines"}, "mark": {"type": "rule", "color": "#222222", "strokeWidth": 1, "xOffset": -77, "x2Offset": -77, "yOffset": -2, "y2Offset": 8},
    "encoding": {"x": {"datum": "PBS", "type": "nominal"}, "y": {"field": "top", "type": "nominal", "sort": ["ALOX15", "GAPDH", "ALOX15_2", "GAPDH_2"]}, "y2": {"field": "bottom"}}},
   {"data": {"name": "hLines"}, "mark": {"type": "text", "angle": 270, "align": "center", "baseline": "middle", "fontSize": 10, "fontWeight": "bold", "xOffset": -83},
    "encoding": {"x": {"datum": "PBS", "type": "nominal"}, "y": {"field": "top", "type": "nominal", "sort": ["ALOX15", "GAPDH", "ALOX15_2", "GAPDH_2"], "bandPosition": 1}, "text": {"field": "line"}}},
   {"data": {"values": [{"t": "H"}]}, "mark": {"type": "text", "fontSize": 22, "align": "left", "baseline": "alphabetic", "dx": -109, "dy": -42}, "encoding": {"x": {"datum": "PBS", "type": "nominal"}, "y": {"datum": "ALOX15", "type": "nominal"}, "text": {"field": "t"}}}
  ]},

  {"layer": [
   {"data": {"name": "idata"}, "mark": {"type": "bar", "stroke": "#555555", "strokeWidth": 0.6},
    "encoding": {
     "x": {"field": "line", "type": "nominal", "sort": ["SGC7901", "MKN45"], "scale": {"range": [328, 455], "paddingInner": 0.224, "paddingOuter": 0.207}, "axis": {"orient": "bottom", "offset": -232, "title": null, "labelAngle": 0, "labelFontSize": 8.5, "tickBand": "extent", "labelPadding": 5}},
     "xOffset": {"field": "trt", "type": "nominal", "sort": ["PBS", "CAF exos", "Cis-CAF exos", "Pac-CAF exos"]},
     "y": {"field": "value", "type": "quantitative", "scale": {"domain": [0, 1.5], "nice": false, "range": [724, 620]}, "axis": {"orient": "left", "offset": -328, "values": [0, 0.5, 1, 1.5], "format": "~g", "labelOverlap": false, "labelFontSize": 8.5, "title": ["Relative abundance", "of ALOX15"], "titleFontSize": 11, "titlePadding": 5, "titleLineHeight": 12}},
     "color": {"field": "trt", "type": "nominal", "scale": {"domain": ["PBS", "CAF exos", "Cis-CAF exos", "Pac-CAF exos"], "range": ["#d9d9d9", "#4f7fbd", "#ff8080", "#8fb257"]}, "legend": {"orient": "none", "legendX": 425, "legendY": 581, "title": null, "labelFontSize": 9.5, "symbolType": "square", "symbolSize": 60, "symbolStrokeColor": "#666666", "symbolStrokeWidth": 0.6, "rowPadding": 3, "labelExpr": "indexof(datum.label, '-C') > 0 ? [slice(datum.label, 0, 4), slice(datum.label, 4)] : datum.label"}}}},
   {"data": {"name": "idata"}, "mark": {"type": "rule", "color": "#000000", "strokeWidth": 0.8}, "encoding": {"x": {"field": "line", "type": "nominal", "sort": ["SGC7901", "MKN45"]}, "xOffset": {"field": "trt", "type": "nominal", "sort": ["PBS", "CAF exos", "Cis-CAF exos", "Pac-CAF exos"]}, "y": {"field": "lo", "type": "quantitative"}, "y2": {"field": "hi"}}},
   {"data": {"name": "idata"}, "mark": {"type": "point", "shape": "M-1,0L1,0", "size": 16, "filled": false, "color": "#000000", "strokeWidth": 0.8, "opacity": 1}, "encoding": {"x": {"field": "line", "type": "nominal", "sort": ["SGC7901", "MKN45"]}, "xOffset": {"field": "trt", "type": "nominal", "sort": ["PBS", "CAF exos", "Cis-CAF exos", "Pac-CAF exos"]}, "y": {"field": "lo", "type": "quantitative"}}},
   {"data": {"name": "idata"}, "mark": {"type": "point", "shape": "M-1,0L1,0", "size": 16, "filled": false, "color": "#000000", "strokeWidth": 0.8, "opacity": 1}, "encoding": {"x": {"field": "line", "type": "nominal", "sort": ["SGC7901", "MKN45"]}, "xOffset": {"field": "trt", "type": "nominal", "sort": ["PBS", "CAF exos", "Cis-CAF exos", "Pac-CAF exos"]}, "y": {"field": "hi", "type": "quantitative"}}},
   {"data": {"name": "idata"}, "mark": {"type": "text", "dy": -6, "fontSize": 9}, "encoding": {"x": {"field": "line", "type": "nominal", "sort": ["SGC7901", "MKN45"]}, "xOffset": {"field": "trt", "type": "nominal", "sort": ["PBS", "CAF exos", "Cis-CAF exos", "Pac-CAF exos"]}, "y": {"field": "hi", "type": "quantitative"}, "text": {"field": "sig"}}},
   {"data": {"values": [{"t": "I"}]}, "mark": {"type": "text", "fontSize": 22, "align": "left", "baseline": "alphabetic", "dx": -80, "dy": -15}, "encoding": {"x": {"datum": "SGC7901", "type": "nominal"}, "y": {"datum": 1.5, "type": "quantitative"}, "text": {"field": "t"}}}
  ]},

  {"layer": [
   {"data": {"name": "jdata"}, "mark": {"type": "bar", "stroke": "#444444", "strokeWidth": 0.6},
    "encoding": {
     "x": {"field": "line", "type": "nominal", "sort": ["SGC7901", "MKN45"], "scale": {"range": [538, 640], "paddingInner": 0.087, "paddingOuter": 0.152}, "axis": {"orient": "bottom", "offset": -237, "title": null, "labelAngle": 0, "labelFontSize": 9, "tickBand": "extent", "labelPadding": 6}},
     "xOffset": {"field": "trt", "type": "nominal", "sort": ["PBS", "CAF exos", "Cis-CAF exos", "Pac-CAF exos"]},
     "y": {"field": "value", "type": "quantitative", "scale": {"domain": [0, 1.5], "nice": false, "range": [719, 597]}, "axis": {"orient": "left", "offset": -538, "values": [0, 0.5, 1, 1.5], "format": "~g", "labelOverlap": false, "labelFontSize": 9.5, "title": ["Relative levels of", "ALOX15 mRNA"], "titleFontSize": 12, "titlePadding": 5, "titleLineHeight": 12}},
     "color": {"field": "trt", "type": "nominal", "scale": {"domain": ["PBS", "CAF exos", "Cis-CAF exos", "Pac-CAF exos"], "range": ["#ffffff", "#e3e3e3", "#969696", "#303030"]}, "legend": {"orient": "none", "legendX": 652, "legendY": 590, "title": null, "labelFontSize": 9.5, "symbolType": "square", "symbolSize": 60, "symbolStrokeColor": "#555555", "symbolStrokeWidth": 0.6, "rowPadding": 3, "labelExpr": "indexof(datum.label, '-C') > 0 ? [slice(datum.label, 0, 4), slice(datum.label, 4)] : datum.label"}}}},
   {"data": {"name": "jdata"}, "mark": {"type": "rule", "color": "#000000", "strokeWidth": 0.8}, "encoding": {"x": {"field": "line", "type": "nominal", "sort": ["SGC7901", "MKN45"]}, "xOffset": {"field": "trt", "type": "nominal", "sort": ["PBS", "CAF exos", "Cis-CAF exos", "Pac-CAF exos"]}, "y": {"field": "lo", "type": "quantitative"}, "y2": {"field": "hi"}}},
   {"data": {"name": "jdata"}, "mark": {"type": "point", "shape": "M-1,0L1,0", "size": 16, "filled": false, "color": "#000000", "strokeWidth": 0.8, "opacity": 1}, "encoding": {"x": {"field": "line", "type": "nominal", "sort": ["SGC7901", "MKN45"]}, "xOffset": {"field": "trt", "type": "nominal", "sort": ["PBS", "CAF exos", "Cis-CAF exos", "Pac-CAF exos"]}, "y": {"field": "lo", "type": "quantitative"}}},
   {"data": {"name": "jdata"}, "mark": {"type": "point", "shape": "M-1,0L1,0", "size": 16, "filled": false, "color": "#000000", "strokeWidth": 0.8, "opacity": 1}, "encoding": {"x": {"field": "line", "type": "nominal", "sort": ["SGC7901", "MKN45"]}, "xOffset": {"field": "trt", "type": "nominal", "sort": ["PBS", "CAF exos", "Cis-CAF exos", "Pac-CAF exos"]}, "y": {"field": "hi", "type": "quantitative"}}},
   {"data": {"values": [{"t": "J"}]}, "mark": {"type": "text", "fontSize": 22, "align": "left", "baseline": "alphabetic", "dx": -81, "dy": 3}, "encoding": {"x": {"datum": "SGC7901", "type": "nominal"}, "y": {"datum": 1.5, "type": "quantitative"}, "text": {"field": "t"}}}
  ]},

  {"layer": [
   {"data": {"name": "kdata"}, "mark": {"type": "bar", "stroke": "#555555", "strokeWidth": 0.6},
    "encoding": {
     "x": {"field": "line", "type": "nominal", "sort": ["SGC7901", "MKN45"], "scale": {"range": [88, 233], "paddingInner": 0.27, "paddingOuter": 0.155}, "axis": {"orient": "bottom", "offset": -87, "title": null, "labels": false, "tickBand": "extent", "tickSize": 4}},
     "xOffset": {"field": "trt", "type": "nominal", "sort": ["PBS", "CAF exos", "Cis-CAF exos", "Pac-CAF exos"]},
     "y": {"field": "value", "type": "quantitative", "scale": {"domain": [0, 50], "nice": false, "range": [869, 783]}, "axis": {"orient": "left", "offset": -88, "values": [0, 10, 20, 30, 40, 50], "format": "d", "labelOverlap": false, "labelFontSize": 10.5, "title": "Lipid ROS (%)", "titleFontSize": 12, "titlePadding": 7}},
     "color": {"field": "trt", "type": "nominal", "scale": {"domain": ["PBS", "CAF exos", "Cis-CAF exos", "Pac-CAF exos"], "range": ["#ffffff", "#f2dcdb", "#b9605c", "#7d3c3c"]}, "legend": null}}},
   {"data": {"name": "kdata"}, "mark": {"type": "rule", "color": "#000000", "strokeWidth": 0.8}, "encoding": {"x": {"field": "line", "type": "nominal", "sort": ["SGC7901", "MKN45"]}, "xOffset": {"field": "trt", "type": "nominal", "sort": ["PBS", "CAF exos", "Cis-CAF exos", "Pac-CAF exos"]}, "y": {"field": "lo", "type": "quantitative"}, "y2": {"field": "hi"}}},
   {"data": {"name": "kdata"}, "mark": {"type": "point", "shape": "M-1,0L1,0", "size": 16, "filled": false, "color": "#000000", "strokeWidth": 0.8, "opacity": 1}, "encoding": {"x": {"field": "line", "type": "nominal", "sort": ["SGC7901", "MKN45"]}, "xOffset": {"field": "trt", "type": "nominal", "sort": ["PBS", "CAF exos", "Cis-CAF exos", "Pac-CAF exos"]}, "y": {"field": "lo", "type": "quantitative"}}},
   {"data": {"name": "kdata"}, "mark": {"type": "point", "shape": "M-1,0L1,0", "size": 16, "filled": false, "color": "#000000", "strokeWidth": 0.8, "opacity": 1}, "encoding": {"x": {"field": "line", "type": "nominal", "sort": ["SGC7901", "MKN45"]}, "xOffset": {"field": "trt", "type": "nominal", "sort": ["PBS", "CAF exos", "Cis-CAF exos", "Pac-CAF exos"]}, "y": {"field": "hi", "type": "quantitative"}}},
   {"data": {"name": "kdata"}, "mark": {"type": "text", "dy": -6, "fontSize": 9}, "encoding": {"x": {"field": "line", "type": "nominal", "sort": ["SGC7901", "MKN45"]}, "xOffset": {"field": "trt", "type": "nominal", "sort": ["PBS", "CAF exos", "Cis-CAF exos", "Pac-CAF exos"]}, "y": {"field": "hi", "type": "quantitative"}, "text": {"field": "sig"}}},
   {"data": {"name": "lines"}, "mark": {"type": "text", "fontWeight": "bold", "fontSize": 8.5, "dy": -13}, "encoding": {"x": {"field": "line", "type": "nominal", "sort": ["SGC7901", "MKN45"]}, "y": {"datum": 50, "type": "quantitative"}, "text": {"field": "line"}}},
   {"data": {"values": [{"t": "K"}]}, "mark": {"type": "text", "fontSize": 22, "align": "left", "baseline": "alphabetic", "dx": -120, "dy": 7}, "encoding": {"x": {"datum": "SGC7901", "type": "nominal"}, "y": {"datum": 50, "type": "quantitative"}, "text": {"field": "t"}}}
  ]},

  {"layer": [
   {"data": {"name": "tabKL"}, "mark": {"type": "text", "fontSize": 11},
    "encoding": {
     "x": {"field": "line", "type": "nominal", "sort": ["SGC7901", "MKN45"], "scale": {"range": [88, 233], "paddingInner": 0.27, "paddingOuter": 0.155}, "axis": null},
     "xOffset": {"field": "trt", "type": "nominal", "sort": ["PBS", "CAF exos", "Cis-CAF exos", "Pac-CAF exos"]},
     "y": {"field": "factor", "type": "nominal", "sort": ["Erastin", "PBS", "CAF exos", "Cis-CAF exos", "Pac-CAF exos"], "scale": {"range": [874, 955], "paddingInner": 0, "paddingOuter": 0}, "axis": {"orient": "left", "offset": -88, "title": null, "domain": false, "ticks": false, "labelFontSize": 11.5, "labelPadding": 6}},
     "text": {"field": "sign"}}}
  ]},

  {"layer": [
   {"data": {"name": "ldata"}, "mark": {"type": "bar", "stroke": "#555555", "strokeWidth": 0.6},
    "encoding": {
     "x": {"field": "line", "type": "nominal", "sort": ["SGC7901", "MKN45"], "scale": {"range": [337, 486], "paddingInner": 0.27, "paddingOuter": 0.155}, "axis": {"orient": "bottom", "offset": -87, "title": null, "labels": false, "tickBand": "extent", "tickSize": 4}},
     "xOffset": {"field": "trt", "type": "nominal", "sort": ["PBS", "CAF exos", "Cis-CAF exos", "Pac-CAF exos"]},
     "y": {"field": "value", "type": "quantitative", "scale": {"domain": [0, 100], "nice": false, "range": [869, 779]}, "axis": {"orient": "left", "offset": -337, "values": [0, 20, 40, 60, 80, 100], "format": "d", "labelOverlap": false, "labelFontSize": 10.5, "title": "Cell death (%)", "titleFontSize": 12, "titlePadding": 5}},
     "color": {"field": "trt", "type": "nominal", "scale": {"domain": ["PBS", "CAF exos", "Cis-CAF exos", "Pac-CAF exos"], "range": ["#ffffff", "#dce6f2", "#4f9fb4", "#1c3a5e"]}, "legend": null}}},
   {"data": {"name": "ldata"}, "mark": {"type": "rule", "color": "#000000", "strokeWidth": 0.8}, "encoding": {"x": {"field": "line", "type": "nominal", "sort": ["SGC7901", "MKN45"]}, "xOffset": {"field": "trt", "type": "nominal", "sort": ["PBS", "CAF exos", "Cis-CAF exos", "Pac-CAF exos"]}, "y": {"field": "lo", "type": "quantitative"}, "y2": {"field": "hi"}}},
   {"data": {"name": "ldata"}, "mark": {"type": "point", "shape": "M-1,0L1,0", "size": 16, "filled": false, "color": "#000000", "strokeWidth": 0.8, "opacity": 1}, "encoding": {"x": {"field": "line", "type": "nominal", "sort": ["SGC7901", "MKN45"]}, "xOffset": {"field": "trt", "type": "nominal", "sort": ["PBS", "CAF exos", "Cis-CAF exos", "Pac-CAF exos"]}, "y": {"field": "lo", "type": "quantitative"}}},
   {"data": {"name": "ldata"}, "mark": {"type": "point", "shape": "M-1,0L1,0", "size": 16, "filled": false, "color": "#000000", "strokeWidth": 0.8, "opacity": 1}, "encoding": {"x": {"field": "line", "type": "nominal", "sort": ["SGC7901", "MKN45"]}, "xOffset": {"field": "trt", "type": "nominal", "sort": ["PBS", "CAF exos", "Cis-CAF exos", "Pac-CAF exos"]}, "y": {"field": "hi", "type": "quantitative"}}},
   {"data": {"name": "ldata"}, "mark": {"type": "text", "dy": -6, "fontSize": 9}, "encoding": {"x": {"field": "line", "type": "nominal", "sort": ["SGC7901", "MKN45"]}, "xOffset": {"field": "trt", "type": "nominal", "sort": ["PBS", "CAF exos", "Cis-CAF exos", "Pac-CAF exos"]}, "y": {"field": "hi", "type": "quantitative"}, "text": {"field": "sig"}}},
   {"data": {"name": "lines"}, "mark": {"type": "text", "fontWeight": "bold", "fontSize": 8.5, "dy": -9}, "encoding": {"x": {"field": "line", "type": "nominal", "sort": ["SGC7901", "MKN45"]}, "y": {"datum": 100, "type": "quantitative"}, "text": {"field": "line"}}},
   {"data": {"values": [{"t": "L"}]}, "mark": {"type": "text", "fontSize": 22, "align": "left", "baseline": "alphabetic", "dx": -153, "dy": 11}, "encoding": {"x": {"datum": "SGC7901", "type": "nominal"}, "y": {"datum": 100, "type": "quantitative"}, "text": {"field": "t"}}}
  ]},

  {"layer": [
   {"data": {"name": "tabKL"}, "mark": {"type": "text", "fontSize": 11},
    "encoding": {
     "x": {"field": "line", "type": "nominal", "sort": ["SGC7901", "MKN45"], "scale": {"range": [337, 486], "paddingInner": 0.27, "paddingOuter": 0.155}, "axis": null},
     "xOffset": {"field": "trt", "type": "nominal", "sort": ["PBS", "CAF exos", "Cis-CAF exos", "Pac-CAF exos"]},
     "y": {"field": "factor", "type": "nominal", "sort": ["Erastin", "PBS", "CAF exos", "Cis-CAF exos", "Pac-CAF exos"], "scale": {"range": [874, 955], "paddingInner": 0, "paddingOuter": 0}, "axis": {"orient": "left", "offset": -337, "title": null, "domain": false, "ticks": false, "labelFontSize": 11.5, "labelPadding": 7}},
     "text": {"field": "sign"}}}
  ]},

  {"layer": [
   {"data": {"name": "mdata"}, "mark": {"type": "bar", "stroke": "#555555", "strokeWidth": 0.6},
    "encoding": {
     "x": {"field": "line", "type": "nominal", "sort": ["SGC7901", "MKN45"], "scale": {"range": [563, 707], "paddingInner": 0.215, "paddingOuter": 0.108}, "axis": {"orient": "bottom", "offset": -84, "title": null, "labels": false, "tickBand": "extent", "tickSize": 4}},
     "xOffset": {"field": "trt", "type": "nominal", "sort": ["None", "Cisplatin", "CAF exos", "Cis-CAF exos", "Pac-CAF exos"]},
     "y": {"field": "value", "type": "quantitative", "scale": {"domain": [0, 100], "nice": false, "range": [872, 783]}, "axis": {"orient": "left", "offset": -563, "values": [0, 20, 40, 60, 80, 100], "format": "d", "labelOverlap": false, "labelFontSize": 10.5, "title": "Cell death (%)", "titleFontSize": 12, "titlePadding": 5}},
     "color": {"field": "trt", "type": "nominal", "scale": {"domain": ["None", "Cisplatin", "CAF exos", "Cis-CAF exos", "Pac-CAF exos"], "range": ["#ffffff", "#b4cbe6", "#9d9466", "#2f8299", "#a32f2f"]}, "legend": null}}},
   {"data": {"name": "mdata"}, "mark": {"type": "rule", "color": "#000000", "strokeWidth": 0.8}, "encoding": {"x": {"field": "line", "type": "nominal", "sort": ["SGC7901", "MKN45"]}, "xOffset": {"field": "trt", "type": "nominal", "sort": ["None", "Cisplatin", "CAF exos", "Cis-CAF exos", "Pac-CAF exos"]}, "y": {"field": "lo", "type": "quantitative"}, "y2": {"field": "hi"}}},
   {"data": {"name": "mdata"}, "mark": {"type": "point", "shape": "M-1,0L1,0", "size": 16, "filled": false, "color": "#000000", "strokeWidth": 0.8, "opacity": 1}, "encoding": {"x": {"field": "line", "type": "nominal", "sort": ["SGC7901", "MKN45"]}, "xOffset": {"field": "trt", "type": "nominal", "sort": ["None", "Cisplatin", "CAF exos", "Cis-CAF exos", "Pac-CAF exos"]}, "y": {"field": "lo", "type": "quantitative"}}},
   {"data": {"name": "mdata"}, "mark": {"type": "point", "shape": "M-1,0L1,0", "size": 16, "filled": false, "color": "#000000", "strokeWidth": 0.8, "opacity": 1}, "encoding": {"x": {"field": "line", "type": "nominal", "sort": ["SGC7901", "MKN45"]}, "xOffset": {"field": "trt", "type": "nominal", "sort": ["None", "Cisplatin", "CAF exos", "Cis-CAF exos", "Pac-CAF exos"]}, "y": {"field": "hi", "type": "quantitative"}}},
   {"data": {"name": "mdata"}, "mark": {"type": "text", "dy": -6, "fontSize": 9}, "encoding": {"x": {"field": "line", "type": "nominal", "sort": ["SGC7901", "MKN45"]}, "xOffset": {"field": "trt", "type": "nominal", "sort": ["None", "Cisplatin", "CAF exos", "Cis-CAF exos", "Pac-CAF exos"]}, "y": {"field": "hi", "type": "quantitative"}, "text": {"field": "sig"}}},
   {"data": {"name": "lines"}, "mark": {"type": "text", "fontWeight": "bold", "fontSize": 8.5, "dy": -13}, "encoding": {"x": {"field": "line", "type": "nominal", "sort": ["SGC7901", "MKN45"]}, "y": {"datum": 100, "type": "quantitative"}, "text": {"field": "line"}}},
   {"data": {"values": [{"t": "M"}]}, "mark": {"type": "text", "fontSize": 22, "align": "left", "baseline": "alphabetic", "dx": -129, "dy": 7}, "encoding": {"x": {"datum": "SGC7901", "type": "nominal"}, "y": {"datum": 100, "type": "quantitative"}, "text": {"field": "t"}}}
  ]},

  {"layer": [
   {"data": {"name": "tabM"}, "mark": {"type": "text", "fontSize": 11},
    "encoding": {
     "x": {"field": "line", "type": "nominal", "sort": ["SGC7901", "MKN45"], "scale": {"range": [563, 707], "paddingInner": 0.215, "paddingOuter": 0.108}, "axis": null},
     "xOffset": {"field": "trt", "type": "nominal", "sort": ["None", "Cisplatin", "CAF exos", "Cis-CAF exos", "Pac-CAF exos"]},
     "y": {"field": "factor", "type": "nominal", "sort": ["Cisplatin", "CAF exos", "Cis-CAF exos", "Pac-CAF exos"], "scale": {"range": [874, 939], "paddingInner": 0, "paddingOuter": 0}, "axis": {"orient": "left", "offset": -563, "title": null, "domain": false, "ticks": false, "labelFontSize": 11.5, "labelPadding": 7}},
     "text": {"field": "sign"}}}
  ]}
 ]
}
